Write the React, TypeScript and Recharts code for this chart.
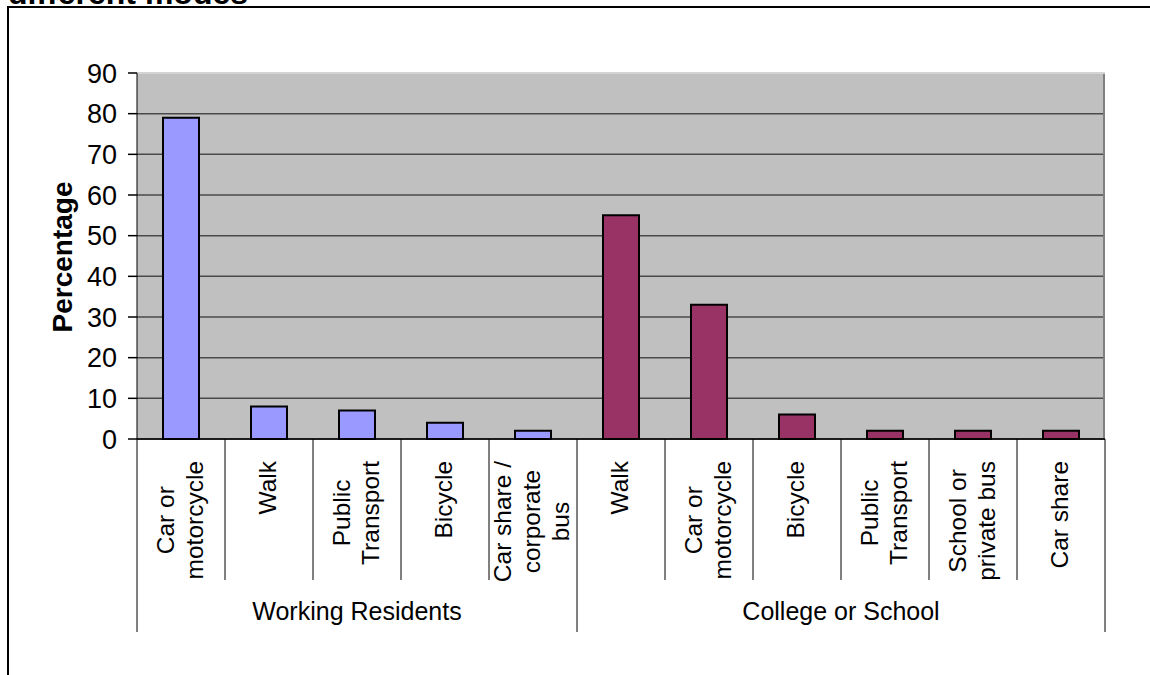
import React from 'react';
import { BarChart, Bar, Cell, XAxis, YAxis, CartesianGrid, Label } from 'recharts';

const groups = ['Working Residents', 'College or School'];
const workingModes = ['Car or\nmotorcycle', 'Walk', 'Public\nTransport', 'Bicycle', 'Car share /\ncorporate\nbus'];
const workingValues = [79, 8, 7, 4, 2];
const schoolModes = ['Walk', 'Car or\nmotorcycle', 'Bicycle', 'Public\nTransport', 'School or\nprivate bus', 'Car share'];
const schoolValues = [55, 33, 6, 2, 2, 2];
const yTicks = [0, 10, 20, 30, 40, 50, 60, 70, 80, 90];

const groupColors = ['#9999FF', '#993366'];
const FONT = "'Liberation Sans', Arial, sans-serif";

const data = [
    ...workingModes.map((mode, i) => ({ mode, group: 0, value: workingValues[i] })),
    ...schoolModes.map((mode, i) => ({ mode, group: 1, value: schoolValues[i] })),
];

// layout
const W = 1150;
const H = 675;
const PLOT_LEFT = 137;
const PLOT_RIGHT = 1105;
const PLOT_TOP = 73;
const PLOT_BOTTOM = 439;
const BAND = (PLOT_RIGHT - PLOT_LEFT) / data.length;
const LINE = 29;
const LABEL_TOP = 461;
const CAT_SIZE = 24.5;

let ctx: CanvasRenderingContext2D | null = null;
function textWidth(s: string, size: number) {
    if (!ctx) ctx = document.createElement('canvas').getContext('2d');
    if (!ctx) return s.length * size * 0.5;
    ctx.font = `${size}px 'Liberation Sans', Arial, sans-serif`;
    return ctx.measureText(s).width;
}

function ModeTick(props: any) {
    const { x, payload } = props;
    const i: number = payload.index;
    const row = data[i];
    const lines = String(payload.value).split('\n');
    const n = lines.length;
    const maxW = Math.max(...lines.map((l) => textWidth(l, CAT_SIZE)));
    const cy = LABEL_TOP + maxW / 2;
    const groupStart = i === 0 || data[i - 1].group !== row.group;
    const isLast = i === data.length - 1;
    const groupCount = data.filter((d) => d.group === row.group).length;
    const left = x - BAND / 2;
    return (
        <g>
            {lines.map((l, j) => {
                const bx = x + (j - (n - 1) / 2) * LINE + 7;
                return (
                    <text key={j} transform={`translate(${bx},${cy}) rotate(-90)`} textAnchor="middle"
                        fontSize={CAT_SIZE} fontFamily={FONT} fill="#000">{l}</text>
                );
            })}
            <line x1={left} x2={left} y1={PLOT_BOTTOM} y2={groupStart ? 632 : 580} stroke="#000" strokeWidth={1} />
            {isLast && (
                <line x1={x + BAND / 2} x2={x + BAND / 2} y1={PLOT_BOTTOM} y2={632} stroke="#000" strokeWidth={1} />
            )}
            {groupStart && (
                <text x={left + (groupCount * BAND) / 2} y={620} textAnchor="middle" fontSize={25}
                    fontFamily={FONT} fill="#000">{groups[row.group]}</text>
            )}
        </g>
    );
}

const renderYLabel = () => (
    <text transform="translate(72,257) rotate(-90)" textAnchor="middle" fontSize={28}
        fontWeight="bold" fontFamily={FONT} fill="#000">Percentage</text>
);

export default function App() {
    return (
        <div style={{ position: 'fixed', left: 0, top: 0, width: W, height: H, overflow: 'hidden', background: '#fff' }}>
            <svg width={W} height={20} style={{ position: 'absolute', left: 0, top: 0 }}>
                <text x={8} y={3.5} fontSize={32} fontWeight="bold" fontFamily={FONT} fill="#000">different modes</text>
            </svg>
            <div style={{ position: 'absolute', left: 7, top: 6, width: W, height: H, borderLeft: '2px solid #000', borderTop: '2px solid #000' }} />
            <div style={{ position: 'absolute', left: 0, top: 0 }}>
                <BarChart width={W} height={H} data={data}
                    margin={{ top: PLOT_TOP, right: W - PLOT_RIGHT, left: 0, bottom: 36 }}>
                    <CartesianGrid vertical={false} fill="#C0C0C0" fillOpacity={1} stroke="#4a4a4a" strokeWidth={1.5} />
                    <CartesianGrid horizontal={false} verticalPoints={[PLOT_RIGHT - 1]} stroke="#808080" strokeWidth={2} />
                    <CartesianGrid vertical={false} horizontalPoints={[PLOT_TOP]} stroke="#d4d4d4" strokeWidth={2} />
                    <XAxis dataKey="mode" interval={0} height={200} tickLine={false}
                        axisLine={{ stroke: '#000', strokeWidth: 1.5 }} tick={<ModeTick />} />
                    <YAxis width={PLOT_LEFT} domain={[0, 90]} ticks={yTicks} interval={0} tickSize={9} tickMargin={11}
                        axisLine={{ stroke: '#000', strokeWidth: 1 }} tickLine={{ stroke: '#000', strokeWidth: 1.5 }}
                        tick={{ fontSize: 27, fontFamily: FONT, fill: '#000' }}>
                        <Label content={renderYLabel} />
                    </YAxis>
                    <Bar dataKey="value" barSize={36} stroke="#000" strokeWidth={2} isAnimationActive={false}>
                        {data.map((d, i) => (
                            <Cell key={`cell-${i}`} fill={groupColors[d.group]} />
                        ))}
                    </Bar>
                </BarChart>
            </div>
        </div>
    );
}
